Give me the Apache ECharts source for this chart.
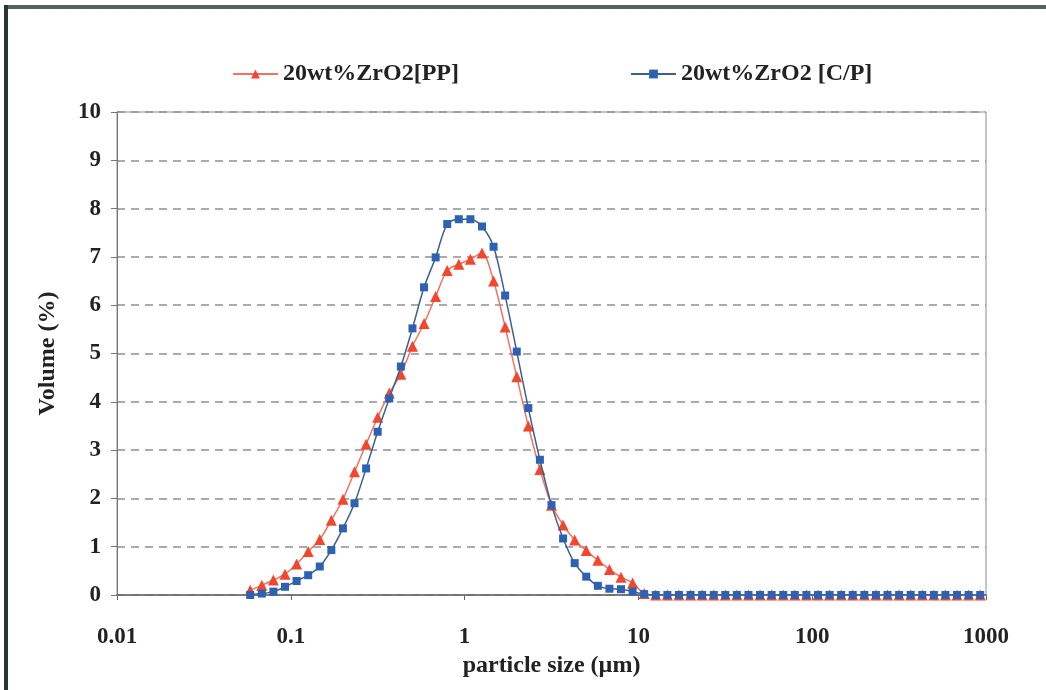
<!DOCTYPE html>
<html>
<head>
<meta charset="utf-8">
<script src="https://cdn.jsdelivr.net/npm/echarts@6/dist/echarts.min.js"></script>
<style>
html,body{margin:0;padding:0;background:#fff;}
#chart{width:1046px;height:690px;}
</style>
</head>
<body>
<div id="chart"></div>
<script>
// particle sizes (µm)
var sizes = [0.0584,0.0681,0.0794,0.0926,0.108,0.1259,0.1468,0.1711,0.1995,0.2326,0.2712,0.3162,0.3687,0.4299,0.5012,0.5843,0.6813,0.7943,0.9261,
  1.0798,1.2589,1.4678,1.7113,1.9953,2.3263,2.7123,3.1623,3.6869,4.2987,5.0119,5.8434,6.8129,7.9433,9.2612,
  10.798,12.589,14.678,17.113,19.953,23.263,27.123,31.623,36.869,42.987,50.119,58.434,68.129,79.433,92.612,
  107.98,125.89,146.78,171.13,199.53,232.63,271.23,316.23,368.69,429.87,501.19,584.34,681.29,794.33,926.12];

var seriesNames = ['20wt%ZrO2[PP]', '20wt%ZrO2 [C/P]'];

var volumePP = [0.1,0.2,0.31,0.43,0.64,0.9,1.15,1.55,1.98,2.55,3.12,3.68,4.18,4.57,5.15,5.62,6.18,6.72,6.85,
  6.95,7.08,6.5,5.55,4.52,3.5,2.6,1.86,1.45,1.14,0.92,0.72,0.53,0.37,0.25,
  0.03,0,0,0,0,0,0,0,0,0,0,0,0,0,0,
  0,0,0,0,0,0,0,0,0,0,0,0,0,0,0];

var volumeCP = [0.0,0.03,0.07,0.17,0.29,0.41,0.59,0.93,1.38,1.9,2.62,3.38,4.07,4.73,5.52,6.37,6.99,7.68,7.78,
  7.78,7.63,7.21,6.2,5.04,3.87,2.8,1.86,1.17,0.66,0.38,0.19,0.13,0.12,0.07,
  0.02,0,0,0,0,0,0,0,0,0,0,0,0,0,0,
  0,0,0,0,0,0,0,0,0,0,0,0,0,0,0];

var xTickLabels = {'0.01':'0.01','0.1':'0.1','1':'1','10':'10','100':'100','1000':'1000'};

function pairs(ys){ return sizes.map(function(s,i){ return [s, ys[i]]; }); }

var FONT = "'Liberation Serif', 'Times New Roman', serif";
var chart = echarts.init(document.getElementById('chart'));
chart.setOption({
  animation: false,
  backgroundColor: '#fff',
  graphic: [
    {type:'rect', shape:{x:5,y:5,width:1041,height:4}, style:{fill:'#56625e'}, silent:true},
    {type:'rect', shape:{x:4,y:5,width:4,height:685}, style:{fill:'#2e3432'}, silent:true}
  ],
  legend: [
    {data:[seriesNames[0]], left:227, top:57, itemWidth:45, itemHeight:11,
     textStyle:{fontFamily:FONT, fontWeight:'bold', fontSize:24, color:'#222'}},
    {data:[seriesNames[1]], left:625, top:57, itemWidth:45, itemHeight:11,
     textStyle:{fontFamily:FONT, fontWeight:'bold', fontSize:24, color:'#222'}}
  ],
  grid: {left:117, right:60, top:112, bottom:95, show:true, borderColor:'#8a8a8a', borderWidth:1, backgroundColor:'transparent'},
  xAxis: {
    type:'log', logBase:10, min:0.01, max:1000,
    name:'particle size (\u00b5m)', nameLocation:'middle', nameGap:56,
    nameTextStyle:{fontFamily:FONT, fontWeight:'bold', fontSize:24, color:'#222'},
    axisLine:{lineStyle:{color:'#666', width:1.5}},
    axisTick:{show:true, length:5, lineStyle:{color:'#666'}},
    minorTick:{show:false},
    splitLine:{show:false},
    axisLabel:{margin:31, fontFamily:FONT, fontWeight:'bold', fontSize:23, color:'#222',
      formatter:function(v){ var k = String(+v.toPrecision(3)); return xTickLabels[k] !== undefined ? xTickLabels[k] : k; }}
  },
  yAxis: {
    type:'value', min:0, max:10, interval:1,
    name:'Volume (%)', nameLocation:'middle', nameGap:57,
    nameTextStyle:{fontFamily:FONT, fontWeight:'bold', fontSize:24, color:'#222'},
    axisLine:{show:true, lineStyle:{color:'#777'}},
    axisTick:{show:true, length:6, lineStyle:{color:'#777'}},
    splitLine:{show:true, lineStyle:{color:'#909090', type:[8,6], width:1.5}},
    axisLabel:{margin:16, fontFamily:FONT, fontWeight:'bold', fontSize:23, color:'#222'}
  },
  series: [
    {name:seriesNames[0], type:'line', data:pairs(volumePP), smooth:0.3,
     symbol:'triangle', symbolSize:11,
     lineStyle:{color:'#ee7462', width:1.5},
     itemStyle:{color:'#f2472e'}, z:2},
    {name:seriesNames[1], type:'line', data:pairs(volumeCP), smooth:0.3,
     symbol:'rect', symbolSize:8,
     lineStyle:{color:'#3b5f8f', width:1.5},
     itemStyle:{color:'#2d62b3'}, z:3}
  ]
});
</script>
</body>
</html>
